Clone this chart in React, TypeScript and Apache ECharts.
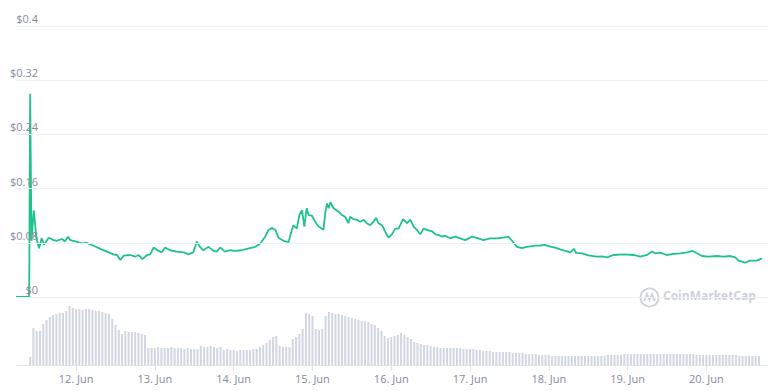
import React, { useEffect, useRef } from "react";
import * as echarts from "echarts";

// Hours counted from 11 Jun 00:00 (local time)
const priceHours = [
  6, 10, 10.3, 10.7, 11.4, 12.2, 13.0, 13.8, 14.5, 15.9, 17.4, 18.4, 20.0, 20.8, 21.8, 22.5,
  24.0, 26.0, 27.5, 29.6, 31.6, 33.6, 35.6, 36.7, 37.7, 38.7, 40.7, 42.2, 43.2, 44.4, 45.8,
  46.8, 47.8, 49.3, 50.3, 51.3, 52.8, 54.8, 56.9, 58.4, 59.9, 60.9, 61.9, 62.9, 64.5, 66.0,
  67.0, 68.0, 69.5, 71.0, 72.6, 74.6, 76.1, 78.7, 80.2, 81.7, 82.7, 83.8, 84.8, 85.8, 87.3,
  88.8, 89.8, 90.3, 91.3, 92.1, 92.9, 93.6, 94.3, 94.9, 95.9, 96.9, 97.9, 98.9, 99.4, 100.0,
  100.5, 101.0, 101.5, 102.5, 104.0, 105.0, 106.0, 107.0, 107.5, 108.5, 109.6, 110.6, 111.6,
  112.6, 113.6, 114.6, 115.4, 116.1, 117.2, 118.2, 119.2, 120.2, 121.2, 122.2, 123.6, 124.8,
  125.8, 126.8, 127.8, 128.8, 129.8, 130.8, 132.4, 133.4, 134.4, 135.4, 136.4, 137.9, 139.4,
  141.0, 142.5, 144.5, 146.5, 148.0, 150.1, 152.1, 154.1, 155.6, 156.7, 158.2, 159.7, 161.2,
  162.7, 163.7, 165.2, 166.7, 168.3, 169.8, 171.3, 172.9, 174.4, 175.5, 176.2, 178.0, 179.9,
  182.5, 184.0, 185.5, 187.5, 190.6, 193.6, 195.6, 197.7, 199.2, 200.2, 201.7, 203.7, 205.8,
  207.8, 209.8, 211.6, 212.9, 214.4, 216.4, 218.9, 221.0, 223.0, 224.5, 225.5, 227.5, 229.0,
  231.1, 232.6,
];

const priceValues = [
  0, 0, 0.3, 0.083, 0.128, 0.087, 0.072, 0.087, 0.077, 0.0875, 0.084, 0.083, 0.0856, 0.082, 0.089, 0.084,
  0.082, 0.079, 0.08, 0.0757, 0.071, 0.067, 0.063, 0.062, 0.0546, 0.061, 0.062, 0.0595, 0.062, 0.056, 0.062,
  0.063, 0.073, 0.068, 0.066, 0.073, 0.069, 0.067, 0.066, 0.063, 0.066, 0.082, 0.074, 0.069, 0.074, 0.068,
  0.067, 0.073, 0.067, 0.069, 0.068, 0.069, 0.071, 0.074, 0.079, 0.089, 0.099, 0.102, 0.099, 0.087, 0.083,
  0.081, 0.099, 0.106, 0.101, 0.121, 0.128, 0.104, 0.131, 0.121, 0.12, 0.111, 0.104, 0.101, 0.099, 0.126,
  0.138, 0.131, 0.14, 0.131, 0.126, 0.121, 0.1185, 0.109, 0.1185, 0.115, 0.114, 0.111, 0.114,
  0.109, 0.106, 0.111, 0.117, 0.109, 0.106, 0.096, 0.0875, 0.0925, 0.101, 0.101, 0.115, 0.109,
  0.114, 0.104, 0.099, 0.0925, 0.101, 0.099, 0.097, 0.0925, 0.0915, 0.089, 0.0905, 0.0866, 0.089,
  0.0866, 0.084, 0.089, 0.0866, 0.084, 0.0866, 0.0866, 0.0875, 0.089, 0.083, 0.074, 0.072, 0.074,
  0.075, 0.0757, 0.076, 0.077, 0.0745, 0.073, 0.0704, 0.068, 0.066, 0.071, 0.065, 0.0645, 0.0615,
  0.0595, 0.06, 0.0586, 0.062, 0.063, 0.062, 0.0595, 0.062, 0.067, 0.0645, 0.0654, 0.062, 0.0635,
  0.0645, 0.066, 0.068, 0.0645, 0.0605, 0.0595, 0.0605, 0.0595, 0.0605, 0.0586, 0.0536, 0.0506, 0.0536,
  0.0536, 0.057,
];

// Hourly volume bars, first bar at hour 10 of 11 Jun (relative units)
const volumeStartHour = 10;
const volumeValues = [
  8, 37, 34, 34, 41, 45, 48, 50, 51, 52, 52, 54, 59, 57, 56, 56, 55, 56, 56, 55, 54, 54, 53, 52, 51, 46, 40, 35, 31, 34, 33, 33, 33, 32, 31, 30, 17,
  17, 17, 18, 17, 17, 17, 18, 17, 17, 17, 16, 17, 16, 16, 16, 19, 18, 18, 19, 18, 17, 18,
  15, 16, 15, 15, 14, 15, 15, 15, 15, 16, 16,
  18, 20, 22, 25, 28, 29, 19, 18, 18, 18, 26, 28, 31, 36,
  52, 51, 49, 36, 35, 36, 49, 53, 52, 51, 51, 50, 49, 48, 47, 46, 45, 44, 44, 43, 41, 40, 37, 34,
  29, 27, 28, 29, 30, 32, 30, 28, 26, 23, 22, 21, 20, 20, 19, 18, 18, 17, 17, 17, 17, 17, 17, 17,
  16, 16, 16, 16, 15, 15, 14, 14, 14, 13, 13, 13, 13, 13, 13, 12, 12, 12, 12, 11, 11, 11, 11, 10, 10, 10, 10,
  9, 9, 9, 9, 9, 9, 9, 9, 9, 9, 9, 9, 9, 9, 9, 9, 9,
  10, 10, 10, 10, 10, 11, 11, 11, 11, 11,
  11, 11, 11, 11, 11, 11, 11, 11, 11, 11, 11, 11, 11, 11, 11, 11, 11, 10, 10, 10,
  10, 10, 10, 10, 10, 10, 10, 10, 10, 10,
  9, 9, 9, 9, 9, 9, 9,
];

const axisStartHour = 6;
const axisEndHour = 234.46;
const priceTicks = [0, 0.08, 0.16, 0.24, 0.32, 0.4];
const monthName = "Jun";

const HOUR = 3600000;
const base = new Date(2021, 5, 11, 0, 0, 0).getTime();
const toTime = (h: number) => base + h * HOUR;

export default function App() {
  const ref = useRef<HTMLDivElement>(null);
  useEffect(() => {
    document.body.style.margin = "0";
    if (!ref.current) return;
    const chart = echarts.init(ref.current, undefined, { renderer: "svg" });
    const priceData = priceHours.map((h, i) => [toTime(h), priceValues[i]]);
    const volumeData = volumeValues.map((v, i) => [toTime(volumeStartHour + i), v]);
    const labelColor = "#858c9d";
    const font = "'Open Sans', 'Noto Sans', sans-serif";
    const markColor = "#cdd1d8";
    chart.setOption({
      animation: false,
      backgroundColor: "#ffffff",
      grid: [
        { left: 16, right: 0, top: 26, bottom: 94 },
        { left: 16, right: 0, top: 297, bottom: 26 },
      ],
      xAxis: [
        {
          type: "time",
          gridIndex: 0,
          min: toTime(axisStartHour),
          max: toTime(axisEndHour),
          show: false,
        },
        {
          type: "time",
          gridIndex: 1,
          min: toTime(axisStartHour),
          max: toTime(axisEndHour),
          minInterval: 24 * HOUR,
          maxInterval: 24 * HOUR,
          splitLine: { show: false },
          axisLine: { show: true, lineStyle: { color: "#dfe3ea", width: 1 } },
          axisTick: { show: true, length: 6, lineStyle: { color: "#dfe3ea" } },
          axisLabel: {
            color: labelColor,
            fontSize: 11,
            fontFamily: font,
            margin: 8,
            showMinLabel: false,
            showMaxLabel: false,
            formatter: (val: number) => `${new Date(val).getDate()}. ${monthName}`,
          },
        },
      ],
      yAxis: [
        {
          type: "value",
          gridIndex: 0,
          min: priceTicks[0],
          max: priceTicks[priceTicks.length - 1],
          interval: 0.08,
          axisLine: { show: false },
          axisTick: { show: false },
          splitLine: { show: true, lineStyle: { color: "#eef0f3", width: 1 } },
          axisLabel: {
            inside: true,
            align: "right",
            verticalAlign: "bottom",
            margin: 22,
            padding: [0, 0, 2, 0],
            color: labelColor,
            fontSize: 11,
            fontFamily: font,
            formatter: (v: number) => "$" + parseFloat(v.toFixed(2)),
          },
          z: 3,
        },
        {
          type: "value",
          gridIndex: 1,
          min: 0,
          max: 68,
          show: false,
          splitLine: { show: false },
        },
      ],
      graphic: [
        {
          type: "group",
          left: 638,
          top: 286,
          z: 0,
          children: [
            {
              type: "circle",
              shape: { cx: 10, cy: 10, r: 9 },
              style: { fill: "none", stroke: markColor, lineWidth: 1.8 },
            },
            {
              type: "polyline",
              shape: {
                points: [
                  [4.5, 13.5],
                  [7.5, 6.5],
                  [10, 12.5],
                  [12.5, 6.5],
                  [14.5, 12.5],
                  [16, 11.5],
                ],
              },
              style: { fill: "none", stroke: markColor, lineWidth: 1.8 },
            },
          ],
        },
        {
          type: "text",
          left: 663,
          top: 289,
          z: 0,
          style: {
            text: "CoinMarketCap",
            fill: markColor,
            font: "bold 12px 'Open Sans', 'Noto Sans', sans-serif",
          },
        },
      ],
      series: [
        {
          name: "Price",
          type: "line",
          xAxisIndex: 0,
          yAxisIndex: 0,
          data: priceData,
          showSymbol: false,
          symbol: "none",
          lineStyle: { color: "#1ec38a", width: 1.8 },
          z: 2,
        },
        {
          name: "Volume",
          type: "bar",
          xAxisIndex: 1,
          yAxisIndex: 1,
          data: volumeData,
          barWidth: 2,
          itemStyle: { color: "#d1d6e1" },
        },
      ],
    });
    return () => chart.dispose();
  }, []);
  return <div ref={ref} style={{ width: 768, height: 391 }} />;
}
